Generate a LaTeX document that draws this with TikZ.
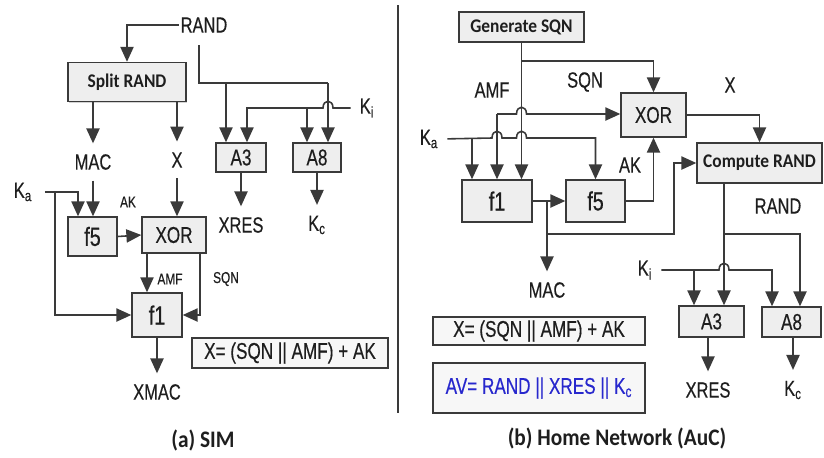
\documentclass[tikz,border=0pt]{standalone}
\usepackage{fontspec}
\usepackage{xcolor}
\usepackage{tikz}
\usetikzlibrary{arrows.meta,positioning,shadows}
\newfontfamily\lblfont{Liberation Sans}[FakeStretch=0.75, FakeBold=0.4]
\newfontfamily\boxfont{Carlito}[FakeStretch=0.9]
\definecolor{lineGray}{RGB}{58,58,58}
\definecolor{textGray}{RGB}{30,30,30}
\definecolor{boxFill}{RGB}{238,238,238}
\definecolor{avBlue}{RGB}{40,40,205}

\tikzset{
  wire/.style={lineGray, line width=0.9pt},
  arr/.style={wire, -{Triangle[length=8.5pt,width=7.5pt]}},
  tolbl/.style={arr, shorten >=5pt},
  lbl/.style={inner sep=1pt, text=textGray, font=\lblfont\fontsize{12.5}{14}\selectfont},
  sml/.style={lbl, font=\lblfont\fontsize{9}{10}\selectfont},
  blk/.style={draw=lineGray, fill=boxFill, line width=0.8pt, inner sep=0pt, text=textGray,
    font=\lblfont\fontsize{13}{15}\selectfont,
    drop shadow={shadow xshift=0.8pt, shadow yshift=-0.8pt, opacity=0.35}},
  fblk/.style={blk, font=\lblfont\fontsize{15}{17}\selectfont},
  cblk/.style={blk, font=\boxfont\bfseries\fontsize{11}{13}\selectfont},
  eqblk/.style={blk, fill=boxFill!45, font=\lblfont\fontsize{13}{15}\selectfont},
  captxt/.style={text=textGray, font=\boxfont\bfseries\fontsize{13.5}{15}\selectfont},
  divider/.style={lineGray, line width=1.2pt}
}

\begin{document}
\begin{tikzpicture}[x=0.02cm, y=-0.02cm]
\useasboundingbox (0,0) rectangle (824,457);

% (a) SIM
\node[lbl] (randL) at (204,25) {RAND};
\node[cblk, minimum width=2.36cm, minimum height=0.78cm] (splitL) at (127,82) {Split RAND};
\node[lbl] (macL) at (93,162) {MAC};
\node[lbl] (xL) at (177,160) {X};
\node[blk, minimum width=1.0cm, minimum height=0.58cm] (a3L) at (241,157.5) {A3};
\node[blk, minimum width=0.96cm, minimum height=0.58cm] (a8L) at (317,157.5) {A8};
\node[lbl] (xresL) at (241,225) {XRES};
\node[lbl] (kcL) at (317,225) {K\textsubscript{c}};
\node[lbl] (kiL) at (367,108) {K\textsubscript{i}};
\node[lbl] (kaL) at (23,192) {K\textsubscript{a}};
\node[fblk, minimum width=0.98cm, minimum height=0.78cm] (f5L) at (92.5,236.5) {f5};
\node[blk, minimum width=1.28cm, minimum height=0.72cm] (xorL) at (174,235) {XOR};
\node[fblk, minimum width=1.0cm, minimum height=0.88cm] (f1L) at (157,315) {f1};
\node[lbl] (xmacL) at (157,392) {XMAC};
\node[eqblk, minimum width=3.92cm, minimum height=0.6cm] (eqL) at (290,353) {X= (SQN || AMF) + AK};
\node[sml] (akL) at (128,202) {AK};
\node[sml] (amfL) at (170,279) {AMF};
\node[sml] (sqnL) at (226,279) {SQN};
\node[captxt] (capL) at (203,440) {(a) SIM};

\coordinate (ra1) at (199,45);
\coordinate (ra2) at (226,83);
\coordinate (ra3) at (328,83);
\coordinate (ki1) at (247,108);
\coordinate (ki2) at (307,108);
\coordinate (ka1) at (55,192);
\coordinate (ka2) at (78,192);
\coordinate (amf1) at (147,0);
\coordinate (sq1) at (200,0);

\draw[arr] (randL.west) -| (splitL.north);
\draw[wire] (ra1) |- (ra3);
\draw[arr] (ra2) -- (ra2 |- a3L.north);
\draw[arr] (ra3) -- (ra3 |- a8L.north);
\draw[arr, shorten <=4pt] (kiL.west) -- (333,108) .. controls (333,99) and (323,99) .. (323,108)
  -- (ki1) -- (ki1 |- a3L.north);
\draw[arr] (ki2) -- (ki2 |- a8L.north);
\draw[tolbl] (splitL.south -| macL) -- (macL);
\draw[tolbl] (splitL.south -| xL) -- (xL);
\draw[arr, shorten <=5pt] (macL) -- (macL |- f5L.north);
\draw[arr, shorten <=5pt] (xL) -- (xL |- xorL.north);
\draw[arr, shorten <=6pt] (kaL.east) -- (ka2) -- (ka2 |- f5L.north);
\draw[arr] (ka1) |- (f1L.west);
\draw[arr] (f5L.east) -- (xorL.west);
\draw[arr] (xorL.south -| amf1) -- (f1L.north -| amf1);
\draw[arr] (xorL.south -| sq1) |- (f1L.east);
\draw[tolbl] (f1L) -- (xmacL);
\draw[tolbl] (a3L) -- (xresL);
\draw[tolbl] (a8L) -- (kcL);

\draw[divider] (398,5) -- (398,413);

% (b) Home Network (AuC)
\node[cblk, minimum width=2.5cm, minimum height=0.6cm] (genR) at (521.5,27) {Generate SQN};
\node[blk, minimum width=1.3cm, minimum height=0.88cm] (xorR) at (653.5,115) {XOR};
\node[cblk, minimum width=2.5cm, minimum height=0.8cm] (compR) at (759.5,163) {Compute RAND};
\node[fblk, minimum width=1.4cm, minimum height=0.84cm] (f1R) at (497,201) {f1};
\node[fblk, minimum width=1.18cm, minimum height=0.84cm] (f5R) at (595.5,201) {f5};
\node[blk, minimum width=1.3cm, minimum height=0.62cm] (a3R) at (711.5,321.5) {A3};
\node[blk, minimum width=1.18cm, minimum height=0.6cm] (a8R) at (791.5,322) {A8};
\node[eqblk, minimum width=4.24cm, minimum height=0.56cm] (eqR) at (539,331) {X= (SQN || AMF) + AK};
\node[eqblk, minimum width=4.24cm, minimum height=1.0cm, text=avBlue] (avR) at (539,388) {AV= RAND || XRES || K\textsubscript{c}};
\node[lbl] (amfR) at (492,90) {AMF};
\node[lbl] (sqnR) at (585,82) {SQN};
\node[lbl] (xR) at (730,85) {X};
\node[lbl] (kaR) at (429,139) {K\textsubscript{a}};
\node[lbl] (akR) at (630,165) {AK};
\node[lbl] (macR) at (547,290) {MAC};
\node[lbl] (randR) at (778,206) {RAND};
\node[lbl] (kiR) at (645,270) {K\textsubscript{i}};
\node[lbl] (xresR) at (708,390) {XRES};
\node[lbl] (kcR) at (793,390) {K\textsubscript{c}};
\node[captxt] (capR) at (617,438) {(b) Home Network (AuC)};

\coordinate (sq0) at (521.5,61);
\coordinate (amf0) at (497,114);
\coordinate (ka0) at (472,138);
\coordinate (mac0) at (547,201);
\coordinate (mac1) at (547,234);
\coordinate (mac2) at (674,234);
\coordinate (rr0) at (724,234);
\coordinate (rr1) at (800,234);
\coordinate (ki3) at (694,270);
\coordinate (ki4) at (772,270);

\draw[arr] (genR.south) -- (genR.south |- f1R.north);
\draw[arr] (sq0) -| (xorR.north);
\draw[arr] (amf0) -- (f1R.north);
\draw[arr] (amf0) -- (516.5,114) .. controls (516.5,105) and (526.5,105) .. (526.5,114)
  -- (amf0 -| xorR.west);
\draw[arr, shorten <=4pt] (kaR.east) -- (492,138) .. controls (492,129) and (502,129) .. (502,138)
  -- (516.5,138) .. controls (516.5,129) and (526.5,129) .. (526.5,138) -| (f5R.north);
\draw[arr] (ka0) -- (ka0 |- f1R.north);
\draw[arr] (f1R.east) -- (f5R.west);
\draw[tolbl] (mac0) -- (macR);
\draw[arr] (mac1) -- (mac2) |- (compR.west);
\draw[arr] (f5R.east) -| (xorR.south);
\draw[arr] (xorR.east) -| (compR.north);
\draw[arr] (compR.south -| rr0) -- (rr0 |- a3R.north);
\draw[arr] (rr0) -- (rr1) -- (rr1 |- a8R.north);
\draw[arr, shorten <=4pt] (kiR.east) -- (719,270) .. controls (719,261) and (729,261) .. (729,270)
  -- (ki4) -- (ki4 |- a8R.north);
\draw[arr] (ki3) -- (ki3 |- a3R.north);
\draw[tolbl] (a3R.south -| xresR) -- (xresR);
\draw[tolbl] (a8R.south -| kcR) -- (kcR);
\end{tikzpicture}
\end{document}
